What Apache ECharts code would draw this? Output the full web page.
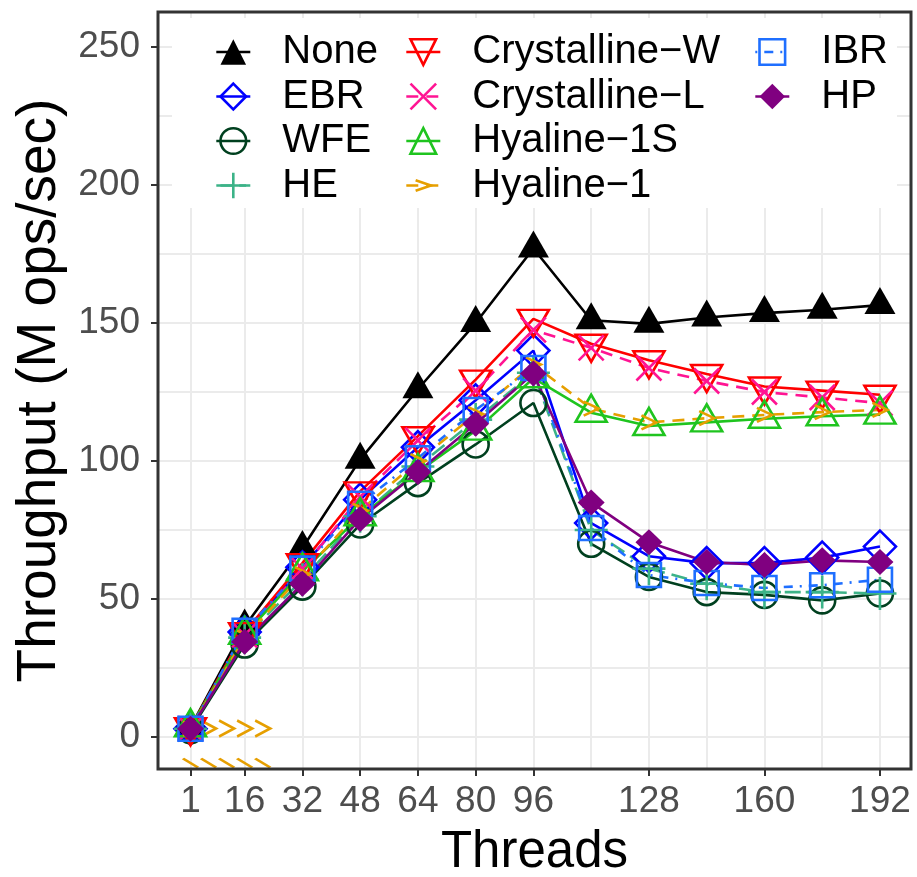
<!DOCTYPE html>
<html><head><meta charset="utf-8">
<script src="https://cdn.jsdelivr.net/npm/echarts@6/dist/echarts.min.js"></script>
<style>html,body{margin:0;padding:0;background:#fff}#c{width:917px;height:877px}</style>
</head><body><div id="c"></div>
<script>
// ---------- data ----------
const threads = [1, 16, 32, 48, 64, 80, 96, 112, 128, 144, 160, 176, 192];
const xTickLabels = [1, 16, 32, 48, 64, 80, 96, 128, 160, 192];
const yTickLabels = [0, 50, 100, 150, 200, 250];
const xGridValues = [1, 16, 32, 48, 64, 80, 96, 112, 128, 144, 160, 176, 192];
const yGridValues = [0, 25, 50, 75, 100, 125, 150, 175, 200, 225, 250];

const seriesNames = ['None', 'EBR', 'WFE', 'HE', 'Crystalline\u2212W', 'Crystalline\u2212L', 'Hyaline\u22121S', 'Hyaline\u22121', 'IBR', 'HP'];

const none          = [3.5, 40, 68.5, 100.5, 126, 150, 177, 151, 149.7, 152, 153.6, 154.8, 156.5];
const ebr           = [3, 38, 61.5, 86, 105, 122, 140, 77.5, 65.5, 63, 63, 65, 69];
const wfe           = [2.5, 33.5, 54.5, 77, 92, 106, 121, 70, 58, 52.5, 51.5, 49.5, 52];
const he            = [3, 36, 57, 80, 98, 115, 132, 75, 61, 55.5, 52.5, 52.5, 52];
const crystallineW  = [3.5, 38, 63, 89, 109, 129.5, 151.5, 142.5, 136.5, 131.5, 127, 125.5, 124];
const crystallineL  = [3, 37, 61, 87, 107.5, 125.5, 147.5, 141, 133.7, 129, 125, 123, 121];
const hyaline1S     = [3.5, 37, 60, 80, 96, 111, 130, 117.5, 112.7, 114, 115.3, 116.2, 116.8];
const hyaline1      = [3, 36, 59, 82, 100, 117, 135, 119, 114, 115.5, 116.7, 117.7, 118.5];
const ibr           = [3, 38.5, 61, 84.5, 101, 118.5, 133.7, 75.7, 58.7, 55.8, 54, 55, 57];
const hp            = [3, 34.5, 55.5, 79, 96, 113.5, 131.7, 85, 70.6, 63.4, 62.3, 64, 63.4];

// stray Hyaline-1 glyphs near the bottom-left corner
const glyphX = [1, 6, 11, 16, 21];
const glyphUpperY = [3.1, 3.1, 3.1, 3.1, 3.1];
const glyphLowerY = [-9.4, -9.4, -9.4, -9.4, -9.4];

const seriesValues = [none, ebr, wfe, he, crystallineW, crystallineL, hyaline1S, hyaline1, ibr, hp];

// ---------- styles ----------
const PLUS = 'path://M10,0L10,20M0,10L20,10';
const CROSS = 'path://M0,0L20,20M20,0L0,20';
const ARROW = 'path://M0,0L12,6L0,12';
const ARROW_LEGEND = 'path://M-10,-12M10,12M-6,-5L6,0L-6,5';
const BACKSLASH = 'path://M0,0L14,8';
const LW = 2.6;

const styles = [
  {color: '#000000', symbol: 'triangle', size: [31, 27], offset: [0, -4.5], rotate: 0, filled: true, dash: 'solid'},
  {color: '#0000FF', symbol: 'diamond', size: [32, 32], offset: [0, 0], rotate: 0, filled: false, dash: 'solid'},
  {color: '#00401F', symbol: 'circle', size: 26, offset: [0, 0], rotate: 0, filled: false, dash: 'solid'},
  {color: '#3CB388', symbol: PLUS, size: 33, offset: [0, 0], rotate: 0, filled: false, dash: [16, 7]},
  {color: '#FF0000', symbol: 'triangle', size: [31, 27], offset: [0, 4.5], rotate: 180, filled: false, dash: 'solid'},
  {color: '#FF1493', symbol: CROSS, size: 25, offset: [0, 0], rotate: 0, filled: false, dash: [12, 8]},
  {color: '#1FC41F', symbol: 'triangle', size: [31, 27], offset: [0, -4.5], rotate: 0, filled: false, dash: 'solid'},
  {color: '#E69F00', symbol: ARROW, legendSymbol: ARROW_LEGEND, size: [15, 14], offset: [0, 0], rotate: 0, filled: false, dash: [12, 8]},
  {color: '#1F6FFF', symbol: 'rect', size: 24, offset: [0, 0], rotate: 0, filled: false, dash: [2, 7, 9, 7]},
  {color: '#800080', symbol: 'diamond', size: [27, 26], offset: [0, 0], rotate: 0, filled: true, dash: 'solid'}
];

const FONT = 'Liberation Sans';

function itemStyleOf(s) {
  return s.filled
    ? {color: s.color, borderColor: s.color, borderWidth: 0, opacity: 1}
    : {color: 'rgba(0,0,0,0)', borderColor: s.color, borderWidth: LW, opacity: 1};
}

const series = [];
// grid lines
series.push({
  type: 'line', name: '__grid', data: [], z: 1, silent: true, animation: false,
  markLine: {
    z: 1, silent: true, symbol: ['none', 'none'], label: {show: false}, animation: false,
    lineStyle: {color: '#EBEBEB', width: 2, type: 'solid'},
    emphasis: {disabled: true},
    data: xGridValues.map(v => ({xAxis: v})).concat(yGridValues.map(v => ({yAxis: v})))
  }
});
// lines
seriesNames.forEach((name, k) => {
  const s = styles[k];
  series.push({
    type: 'line', name: name, z: 2, animation: false,
    data: threads.map((t, i) => [t, seriesValues[k][i]]),
    symbol: s.legendSymbol || s.symbol, symbolRotate: s.rotate, showSymbol: false,
    lineStyle: {color: s.color, width: LW, type: s.dash},
    itemStyle: itemStyleOf(s),
    emphasis: {disabled: true}
  });
});
// stray glyphs
series.push({
  type: 'scatter', name: '__glyphUpper', z: 2, animation: false, silent: true,
  data: glyphX.map((x, i) => [x, glyphUpperY[i]]),
  symbol: ARROW, symbolSize: [15, 16],
  itemStyle: {color: 'rgba(0,0,0,0)', borderColor: '#E69F00', borderWidth: LW, opacity: 1}
});
series.push({
  type: 'scatter', name: '__glyphLower', z: 2, animation: false, silent: true,
  data: glyphX.map((x, i) => [x, glyphLowerY[i]]),
  symbol: BACKSLASH, symbolSize: [15, 9],
  itemStyle: {color: 'rgba(0,0,0,0)', borderColor: '#E69F00', borderWidth: LW, opacity: 1}
});
// points
seriesNames.forEach((name, k) => {
  const s = styles[k];
  series.push({
    type: 'scatter', name: name, z: 3, animation: false,
    data: threads.map((t, i) => [t, seriesValues[k][i]]),
    symbol: s.symbol, symbolSize: s.size, symbolOffset: s.offset, symbolRotate: s.rotate,
    itemStyle: itemStyleOf(s),
    emphasis: {disabled: true}
  });
});

function legendCol(names, left) {
  return {
    orient: 'vertical', left: left, top: 32, padding: 0, itemGap: 4.5,
    itemWidth: 34, itemHeight: 32, selectedMode: false, z: 6,
    textStyle: {fontSize: 40, color: '#000', fontFamily: FONT, lineHeight: 40, padding: [0, 0, 0, 27]},
    data: names.map(n => {
      const s = styles[seriesNames.indexOf(n)];
      return {name: n, itemStyle: itemStyleOf(s), lineStyle: {width: LW}};
    })
  };
}

const option = {
  backgroundColor: '#ffffff',
  animation: false,
  textStyle: {fontFamily: FONT},
  grid: {left: 158, top: 12, width: 753, height: 757, show: true, borderColor: '#333333', borderWidth: 3,
         backgroundColor: 'rgba(0,0,0,0)', z: 10, containLabel: false, outerBoundsMode: 'none'},
  graphic: {elements: [{type: 'rect', left: 172, top: 18, shape: {width: 725, height: 190}, style: {fill: '#ffffff'}, z: 4, silent: true}]},
  legend: [
    legendCol(['None', 'EBR', 'WFE', 'HE'], 215),
    legendCol(['Crystalline\u2212W', 'Crystalline\u2212L', 'Hyaline\u22121S', 'Hyaline\u22121'], 405),
    legendCol(['IBR', 'HP'], 754)
  ],
  xAxis: {
    type: 'value', min: -8.0, max: 200.6,
    splitLine: {show: false},
    axisLine: {show: false, onZero: false},
    axisTick: {show: true, customValues: xTickLabels, length: 7, lineStyle: {color: '#333333', width: 2}},
    axisLabel: {customValues: xTickLabels, fontSize: 37, color: '#4D4D4D', margin: 14, fontFamily: FONT},
    name: 'Threads', nameLocation: 'middle', nameGap: 58,
    nameTextStyle: {fontSize: 51, color: '#000000', fontFamily: FONT}
  },
  yAxis: {
    type: 'value', min: -11.6, max: 262.7,
    splitLine: {show: false},
    axisLine: {show: false, onZero: false},
    axisTick: {show: true, customValues: yTickLabels, length: 7, lineStyle: {color: '#333333', width: 2}},
    axisLabel: {customValues: yTickLabels, fontSize: 37, color: '#4D4D4D', margin: 18, fontFamily: FONT},
    name: 'Throughput (M ops/sec)', nameLocation: 'middle', nameGap: 90, nameRotate: 90,
    nameTextStyle: {fontSize: 55, color: '#000000', fontFamily: FONT}
  },
  series: series
};

const chart = echarts.init(document.getElementById('c'), null, {renderer: 'canvas'});
chart.setOption(option);
</script>
</body></html>
